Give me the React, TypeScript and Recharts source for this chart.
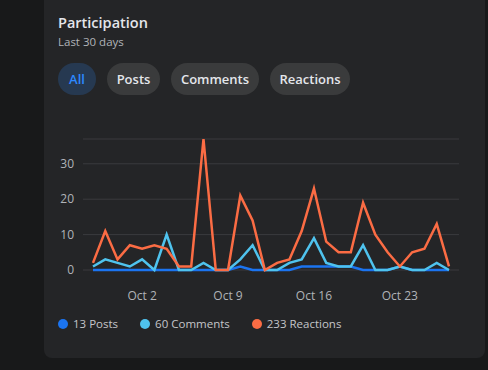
import { LineChart, Line, XAxis, YAxis, CartesianGrid } from 'recharts';

const days = [
  'Sep 28', 'Sep 29', 'Sep 30', 'Oct 1', 'Oct 2', 'Oct 3', 'Oct 4', 'Oct 5', 'Oct 6', 'Oct 7',
  'Oct 8', 'Oct 9', 'Oct 10', 'Oct 11', 'Oct 12', 'Oct 13', 'Oct 14', 'Oct 15', 'Oct 16', 'Oct 17',
  'Oct 18', 'Oct 19', 'Oct 20', 'Oct 21', 'Oct 22', 'Oct 23', 'Oct 24', 'Oct 25', 'Oct 26', 'Oct 27',
];
const posts = [0, 0, 0, 0, 0, 0, 0, 0, 0, 0, 0, 0, 1, 0, 0, 0, 0, 1, 1, 1, 1, 1, 0, 0, 0, 1, 0, 0, 0, 0];
const comments = [1, 3, 2, 1, 3, 0, 10, 0, 0, 2, 0, 0, 3, 7, 0, 0, 2, 3, 9, 2, 1, 1, 7, 0, 0, 1, 0, 0, 2, 0];
const reactions = [2, 11, 3, 7, 6, 7, 6, 1, 1, 37, 0, 0, 21, 14, 0, 2, 3, 11, 23, 8, 5, 5, 19, 10, 5, 1, 5, 6, 13, 1];

const xTicks = ['Oct 2', 'Oct 9', 'Oct 16', 'Oct 23'];
const yTicks = [0, 10, 20, 30];
const filters = ['All', 'Posts', 'Comments', 'Reactions'];
const totals = [13, 60, 233];

const data = days.map((d, i) => ({ date: d, posts: posts[i], comments: comments[i], reactions: reactions[i] }));

const series = [
  { key: 'posts', label: 'Posts', color: '#1b74f0' },
  { key: 'comments', label: 'Comments', color: '#4fc3ee' },
  { key: 'reactions', label: 'Reactions', color: '#fb6c44' },
];

const pillPos = [
  { left: 58, width: 38 },
  { left: 107, width: 53 },
  { left: 171, width: 88 },
  { left: 270, width: 80 },
];

const font = '"Open Sans", "Noto Sans", sans-serif';

export default function App() {
  return (
    <div style={{ position: 'fixed', left: 0, top: 0, width: 488, height: 370, background: '#18191a', overflow: 'hidden', fontFamily: font }}>
      <div style={{ position: 'absolute', left: 44, top: -20, width: 441, height: 378, background: '#242527', borderRadius: 8 }} />

      <div style={{ position: 'absolute', left: 58, top: 12, lineHeight: '22px', fontSize: 14.5, fontWeight: 600, color: '#e4e6eb' }}>
        Participation
      </div>
      <div style={{ position: 'absolute', left: 58, top: 34, lineHeight: '16px', fontSize: 11.5, color: '#b0b3b8' }}>
        Last 30 days
      </div>

      {filters.map((f, i) => (
        <div
          key={f}
          style={{
            position: 'absolute',
            left: pillPos[i].left,
            top: 63,
            width: pillPos[i].width,
            height: 32,
            lineHeight: '32px',
            borderRadius: 16,
            textAlign: 'center',
            fontSize: 13,
            fontWeight: 600,
            background: i === 0 ? '#263951' : '#3a3b3c',
            color: i === 0 ? '#2d88ff' : '#e4e6eb',
          }}
        >
          {f}
        </div>
      ))}

      <div style={{ position: 'absolute', left: 44, top: 120 }}>
        <LineChart width={441} height={190} data={data} margin={{ top: 19, right: 26, left: 0, bottom: 10 }}>
          <CartesianGrid vertical={false} stroke="#3a3b3e" />
          <XAxis
            dataKey="date"
            ticks={xTicks}
            interval={0}
            axisLine={false}
            tickLine={false}
            tickMargin={15}
            height={30}
            padding={{ left: 10, right: 10 }}
            tick={{ fill: '#b0b3b8', fontSize: 12, fontFamily: font }}
          />
          <YAxis
            domain={[0, 'dataMax']}
            ticks={yTicks}
            axisLine={false}
            tickLine={false}
            width={39}
            tickMargin={3}
            tick={{ fill: '#b0b3b8', fontSize: 12, fontFamily: font }}
          />
          {series.map((s) => (
            <Line
              key={s.key}
              type="linear"
              dataKey={s.key}
              stroke={s.color}
              strokeWidth={2.5}
              dot={false}
              isAnimationActive={false}
            />
          ))}
        </LineChart>
      </div>

      <div style={{ position: 'absolute', left: 58, top: 316, height: 16, display: 'flex', alignItems: 'center', gap: 22, fontSize: 11.5, color: '#c4c6ca', lineHeight: '16px' }}>
        {series.map((s, i) => (
          <div key={s.key} style={{ display: 'flex', alignItems: 'center' }}>
            <span style={{ width: 10, height: 10, borderRadius: 5, background: s.color, marginRight: 5 }} />
            <span>{totals[i]} {s.label}</span>
          </div>
        ))}
      </div>
    </div>
  );
}
